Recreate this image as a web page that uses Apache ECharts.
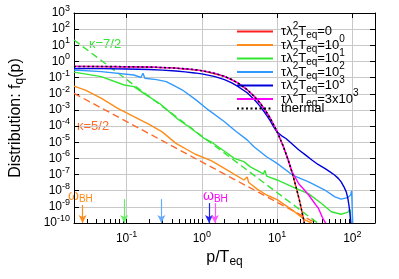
<!DOCTYPE html>
<html><head><meta charset="utf-8">
<script src="https://cdn.jsdelivr.net/npm/echarts@6/dist/echarts.min.js"></script>
<style>html,body{margin:0;padding:0;background:#fff}#c{width:399px;height:279px}</style>
</head><body><div id="c"></div>
<script>
const FONT = '"Liberation Sans", Arial, Helvetica, sans-serif';

// ---- tick values ----
const xMajor = [0.1, 1, 10, 100];
const xMinor = [0.03,0.04,0.05,0.06,0.07,0.08,0.09,0.2,0.3,0.4,0.5,0.6,0.7,0.8,0.9,2,3,4,5,6,7,8,9,20,30,40,50,60,70,80,90];
const yMajor = [1e-10,1e-9,1e-8,1e-7,1e-6,1e-5,1e-4,1e-3,1e-2,1e-1,1,1e1,1e2,1e3];

// ---- series values [p/Teq, f_q(p)] ----
const thermal = [[0.02,0.495],[0.05,0.488],[0.1,0.475],[0.2,0.45],[0.4,0.40],[0.6,0.354],[0.8,0.31],[1,0.269],[1.5,0.182],[2,0.119],[2.5,0.076],[3,0.047],[4,0.018],[5,0.0067],[6,0.0025],[7,9.1e-4],[8,3.4e-4],[9,1.2e-4],[10,4.5e-5],[12,6.1e-6],[14,8.3e-7],[16,1.1e-7],[18,1.5e-8],[20,2.1e-9],[22,2.8e-10],[23,1.0e-10]];
const tau0 = [[0.02,0.495],[0.1,0.475],[0.4,0.40],[1,0.269],[2,0.119],[3,0.047],[4,0.018],[5,0.0067],[6,0.0025],[7,9.1e-4],[8,3.4e-4],[10,4.5e-5],[12,6.1e-6],[14,8.3e-7],[16,1.1e-7],[18,1.5e-8],[20,2.1e-9],[22,2.8e-10],[23,1.0e-10]];
const tau1e0 = [[0.02,0.030],[0.0283,0.017],[0.0464,5.2e-3],[0.0762,1.26e-3],[0.125,3.8e-4],[0.205,1.17e-4],[0.3,4.2e-5],[0.453,8.5e-6],[0.82,1.8e-6],[1.35,7e-7],[2.21,1.8e-7],[3.62,4.6e-8],[4.0,7e-8],[4.2,3.2e-8],[5.5,1.2e-8],[7.25,5.4e-9],[10,2.8e-9],[16,6.3e-10],[23.8,1.5e-10],[29,1e-10]];
const tau1e1 = [[0.02,0.22],[0.046,0.115],[0.093,0.035],[0.125,0.0275],[0.186,7.9e-3],[0.275,2.5e-3],[0.41,5e-4],[0.5,2.3e-4],[0.672,9.1e-5],[1.1,1.6e-5],[1.35,1e-5],[2.21,2e-6],[2.69,1e-6],[3.62,6.3e-7],[4.42,3e-7],[6.56,1.1e-7],[6.9,1.8e-7],[7.25,8e-8],[10,4.6e-8],[16,1.7e-8],[26.3,6.3e-9],[39,1.6e-9],[52.5,5e-10],[70.7,3.5e-10],[86.3,4.5e-10],[93,7e-10],[96,1e-10]];
const tau1e2 = [[0.02,0.295],[0.046,0.234],[0.125,0.145],[0.155,0.102],[0.165,0.186],[0.175,0.091],[0.25,0.075],[0.336,0.056],[0.453,0.0275],[0.552,0.017],[0.82,4.5e-3],[1.22,1e-3],[2.0,1.86e-4],[2.8,5e-5],[4.0,1.4e-5],[4.88,5.5e-6],[7.25,1.26e-6],[10,4.9e-7],[16,9.3e-8],[26.3,3.5e-8],[43.1,1.1e-8],[57.9,4.3e-9],[70.7,3.0e-9],[86.3,3.7e-9],[95,5.4e-9],[98,1e-8],[101,1e-10]];
const tau1e3 = [[0.02,0.37],[0.05,0.36],[0.1,0.345],[0.2,0.315],[0.3,0.29],[0.45,0.255],[0.6,0.225],[0.8,0.195],[1,0.17],[1.5,0.115],[2,0.075],[2.5,0.047],[3,0.029],[4,0.0115],[5,0.0043],[6,0.0016],[7,6e-4],[8,2.3e-4],[9,9e-5],[10,4.3e-5],[11.5,2.5e-5],[13.1,1.7e-5],[16,7.5e-6],[19.5,3.3e-6],[24,1.6e-6],[29,7.9e-7],[35,4.2e-7],[43,2.4e-7],[50,1.5e-7],[58,9.3e-8],[65,5.8e-8],[71,3.5e-8],[77,1.8e-8],[83,8.5e-9],[87,3.5e-9],[90,1.3e-9],[93,4e-10],[95,1e-10]];
const tau3e3 = [[0.02,0.495],[0.1,0.475],[0.2,0.45],[0.4,0.40],[0.6,0.354],[0.8,0.31],[1,0.269],[1.5,0.182],[2,0.119],[2.5,0.076],[3,0.047],[4,0.018],[5,0.0067],[6,0.0025],[7,9.1e-4],[8,3.4e-4],[9,1.2e-4],[10,4.5e-5],[12,6.1e-6],[14,8.5e-7],[16,1.3e-7],[18,5.1e-8],[19.5,2.6e-8],[22,1.4e-8],[26.3,5.4e-9],[30,2.3e-9],[35.4,8.1e-10],[40,2.2e-10],[43,1.2e-10],[44.5,1e-10]];
const kappa72 = [[0.02,21.4],[1,2.4e-5],[34.5,1e-10]];
const kappa52 = [[0.02,0.0107],[1,6.0e-7],[32.6,1e-10]];

// omega_BH arrow positions [p/Teq, arrow top]
const omegaOrange = [0.026, 1.3e-9];
const omegaGreen = [0.093, 3.0e-9];
const omegaLightBlue = [0.29, 3.0e-9];
const omegaBlue = [1.245, 1.7e-9];
const omegaMagenta = [1.49, 1.7e-9];

const C = {red:'#ff2020', orange:'#ff8c1a', orangeD:'#ff6a2a', green:'#33e633', lblue:'#3399ff', blue:'#0000dd', mag:'#ff00ff', black:'#000'};

const supRich = {
  b: {fontFamily: FONT, fontSize: 12, lineHeight: 12, color: '#000', verticalAlign: 'middle'},
  s: {fontFamily: FONT, fontSize: 9, lineHeight: 12, color: '#000', padding: [-4.5,0,4.5,0], verticalAlign: 'middle'}
};
function powLabel(v) {
  const e = Math.round(Math.log10(v));
  return '{b|10}{s|' + e + '}';
}

const legRich = {
  m: {fontFamily: FONT, fontSize: 13, lineHeight: 13, color: '#000', verticalAlign: 'middle'},
  sp: {fontFamily: FONT, fontSize: 10, lineHeight: 13, color: '#000', padding: [-5.5,0,5.5,0], verticalAlign: 'middle'},
  sb: {fontFamily: FONT, fontSize: 10, lineHeight: 13, color: '#000', padding: [4,0,-4,0], verticalAlign: 'middle'}
};
const legNames = {
  tau0: '{m|τλ}{sp|2}{m|T}{sb|eq}{m|=0}',
  tau1e0: '{m|τλ}{sp|2}{m|T}{sb|eq}{m|=10}{sp|0}',
  tau1e1: '{m|τλ}{sp|2}{m|T}{sb|eq}{m|=10}{sp|1}',
  tau1e2: '{m|τλ}{sp|2}{m|T}{sb|eq}{m|=10}{sp|2}',
  tau1e3: '{m|τλ}{sp|2}{m|T}{sb|eq}{m|=10}{sp|3}',
  tau3e3: '{m|τλ}{sp|2}{m|T}{sb|eq}{m|=3x10}{sp|3}',
  thermal: '{m|thermal}'
};

function arrowLine(pt, color) {
  return {
    silent: true, symbol: ['none', 'arrow'], symbolSize: [6, 8], animation: false,
    label: {show: false}, lineStyle: {color: color, width: 1.2, type: 'solid'},
    data: [[{coord: [pt[0], pt[1]]}, {coord: [pt[0], 1e-10]}]]
  };
}
function lineSeries(name, data, color, extra) {
  return Object.assign({
    name: name, type: 'line', data: data, showSymbol: false, symbol: 'none',
    lineStyle: {color: color, width: 1.4}, itemStyle: {color: color},
    animation: false, z: 3, clip: true
  }, extra || {});
}

const chart = echarts.init(document.getElementById('c'), null, {renderer: 'canvas'});
chart.setOption({
  backgroundColor: '#fff',
  animation: false,
  grid: {left: 65, right: 24, top: 13, bottom: 56, containLabel: false},
  xAxis: [{
    type: 'log', logBase: 10, min: 0.02, max: 200, position: 'bottom',
    name: '{m|p/T}{sb|eq}', nameLocation: 'middle', nameGap: 22,
    nameTextStyle: {rich: {
      m: {fontFamily: FONT, fontSize: 16, lineHeight: 18, color: '#000', verticalAlign: 'middle'},
      sb: {fontFamily: FONT, fontSize: 12, lineHeight: 18, color: '#000', padding: [4,0,-4,0], verticalAlign: 'middle'}
    }},
    axisLine: {show: true, lineStyle: {color: '#000', width: 1}},
    axisTick: {show: true, inside: true, length: 4, customValues: xMajor.concat(xMinor), lineStyle: {color: '#000'}},
    axisLabel: {customValues: xMajor, formatter: powLabel, rich: supRich, margin: 10, hideOverlap: false, showMinLabel: true, showMaxLabel: true},
    splitLine: {show: false}
  }, {
    type: 'log', logBase: 10, min: 0.02, max: 200, position: 'top',
    axisLine: {show: true, lineStyle: {color: '#000', width: 1}},
    axisTick: {show: true, inside: true, length: 5, customValues: xMajor, lineStyle: {color: '#000'}},
    axisLabel: {show: false},
    splitLine: {show: true, lineStyle: {color: '#c8c8c8', width: 1}}
  }],
  yAxis: [{
    type: 'log', logBase: 10, min: 1e-10, max: 1e3, position: 'left',
    name: '{m|Distribution: f}{sb|q}{m|(p)}', nameLocation: 'middle', nameGap: 49, nameRotate: 90,
    nameTextStyle: {rich: {
      m: {fontFamily: FONT, fontSize: 16, lineHeight: 18, color: '#000', verticalAlign: 'middle'},
      sb: {fontFamily: FONT, fontSize: 12, lineHeight: 18, color: '#000', padding: [4,0,-4,0], verticalAlign: 'middle'}
    }},
    axisLine: {show: true, lineStyle: {color: '#000', width: 1}},
    axisTick: {show: true, inside: true, length: 5, customValues: yMajor, lineStyle: {color: '#000'}},
    axisLabel: {customValues: yMajor, formatter: powLabel, rich: supRich, margin: 4, hideOverlap: false, showMinLabel: true, showMaxLabel: true, interval: 0},
    splitLine: {show: true, lineStyle: {color: '#c8c8c8', width: 1}}
  }, {
    type: 'log', logBase: 10, min: 1e-10, max: 1e3, position: 'right',
    axisLine: {show: true, lineStyle: {color: '#000', width: 1}},
    axisTick: {show: true, inside: true, length: 5, customValues: yMajor, lineStyle: {color: '#000'}},
    axisLabel: {show: false},
    splitLine: {show: false}
  }],
  legend: {
    orient: 'vertical', left: 236, top: 21, padding: 0,
    itemWidth: 36, itemHeight: 10, itemGap: -6,
    itemStyle: {opacity: 0},
    data: ['tau0','tau1e0','tau1e1','tau1e2','tau1e3','tau3e3','thermal'],
    formatter: function (n) { return legNames[n]; },
    textStyle: {fontFamily: FONT, fontSize: 13, color: '#000', lineHeight: 13, padding: [0,0,0,3], rich: legRich},
    selectedMode: false
  },
  series: [
    lineSeries('kappa72', kappa72, C.green, {lineStyle: {color: C.green, width: 1.4, type: [7,4]}, z: 2}),
    lineSeries('kappa52', kappa52, C.orangeD, {lineStyle: {color: C.orangeD, width: 1.4, type: [7,4]}, z: 2}),
    lineSeries('tau0', tau0, C.red),
    lineSeries('tau1e0', tau1e0, C.orange, {markLine: arrowLine(omegaOrange, C.orange)}),
    lineSeries('tau1e1', tau1e1, C.green, {markLine: arrowLine(omegaGreen, '#66ee66')}),
    lineSeries('tau1e2', tau1e2, C.lblue, {markLine: arrowLine(omegaLightBlue, '#66aaff')}),
    lineSeries('tau1e3', tau1e3, C.blue, {markLine: arrowLine(omegaBlue, '#2222ee')}),
    lineSeries('tau3e3', tau3e3, C.mag, {markLine: arrowLine(omegaMagenta, '#ff55ff')}),
    lineSeries('thermal', thermal, C.black, {lineStyle: {color: '#000', width: 1.5, type: [2,2.5]}, z: 4})
  ],
  graphic: [
    {type: 'text', left: 89, top: 38, silent: true, style: {text: 'κ=7/2', fill: C.green, font: '13px ' + FONT}},
    {type: 'text', left: 77, top: 120, silent: true, style: {text: 'κ=5/2', fill: C.orangeD, font: '13px ' + FONT}},
    {type: 'text', left: 68, top: 189, silent: true, style: {text: '{w|ω}{s|BH}', rich: {
      w: {fill: C.orange, fontFamily: FONT, fontSize: 14, lineHeight: 14},
      s: {fill: C.orange, fontFamily: FONT, fontSize: 10, lineHeight: 14, padding: [3.5,0,-3.5,0]}
    }}},
    {type: 'text', left: 203, top: 189, silent: true, style: {text: '{w|ω}{s|BH}', rich: {
      w: {fill: C.mag, fontFamily: FONT, fontSize: 14, lineHeight: 14},
      s: {fill: C.mag, fontFamily: FONT, fontSize: 10, lineHeight: 14, padding: [3.5,0,-3.5,0]}
    }}}
  ]
});
</script></body></html>
